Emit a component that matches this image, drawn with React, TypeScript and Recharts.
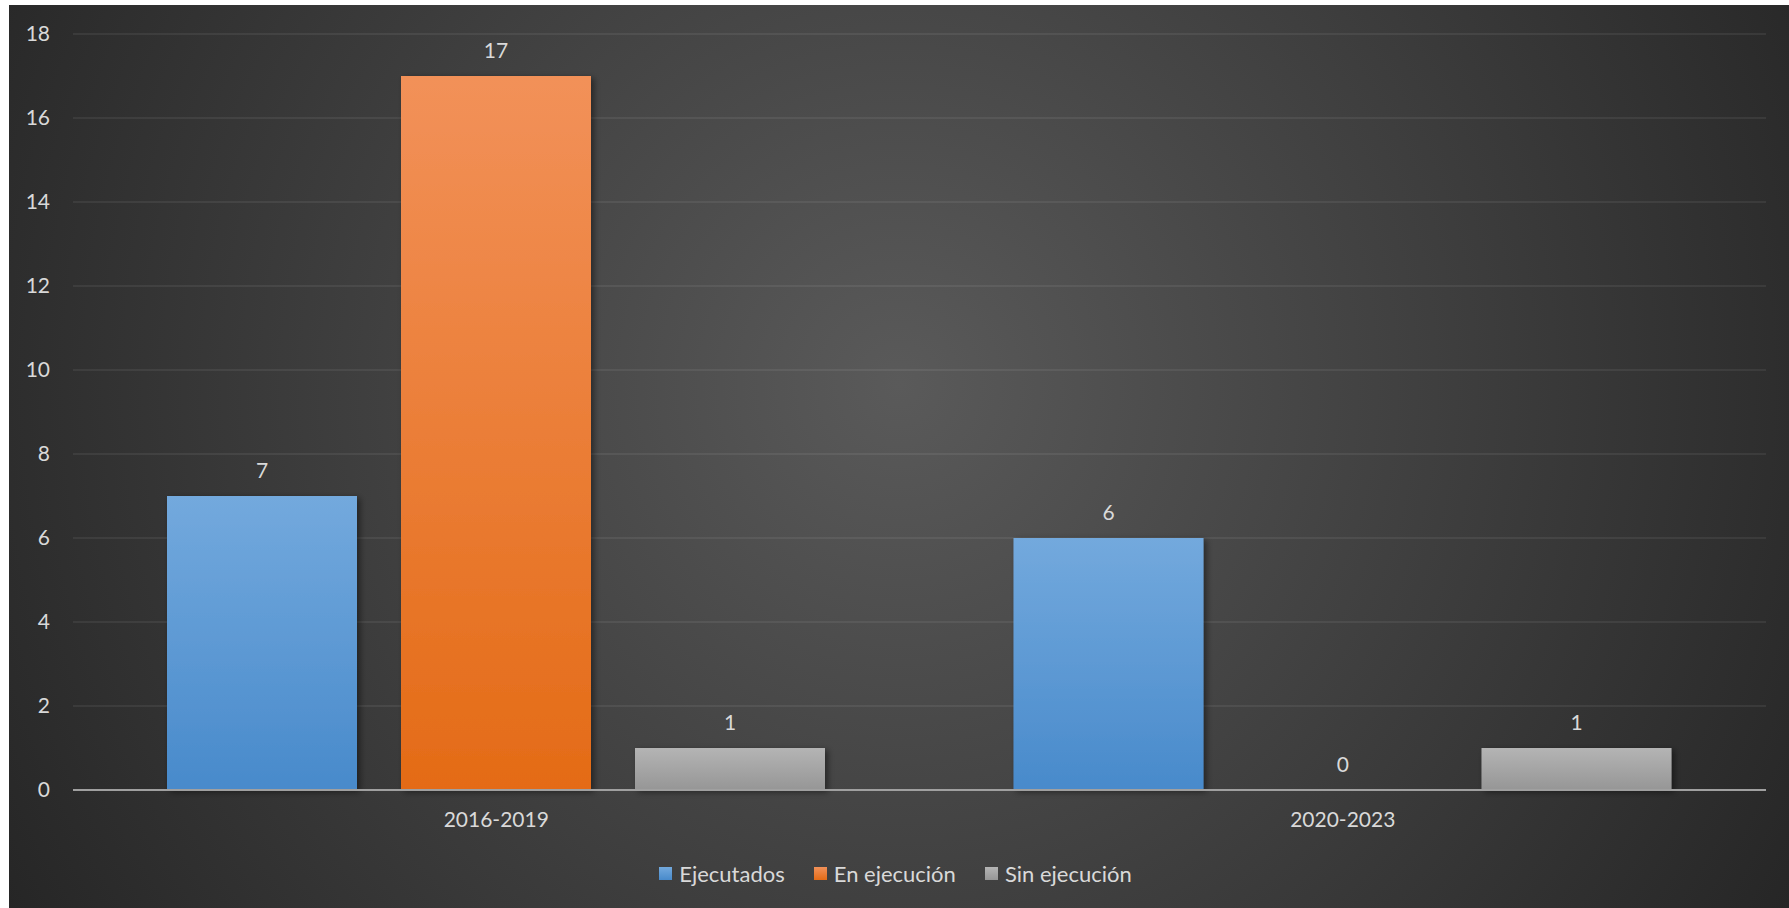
import { BarChart, Bar, XAxis, YAxis, CartesianGrid, Legend, LabelList, ReferenceDot } from 'recharts';

const categories = ['2016-2019', '2020-2023'];
const ejecutados = [7, 6];
const enEjecucion = [17, 0];
const sinEjecucion = [1, 1];
const yTicks = [0, 2, 4, 6, 8, 10, 12, 14, 16, 18];

const series = [
  { key: 'ejecutados', name: 'Ejecutados', color: '#5b9bd5', top: '#73a9dd', bottom: '#488acb' },
  { key: 'enEjecucion', name: 'En ejecución', color: '#ed7d31', top: '#f29159', bottom: '#e46b16' },
  { key: 'sinEjecucion', name: 'Sin ejecución', color: '#a5a5a5', top: '#b4b4b4', bottom: '#969696' },
];

const data = categories.map((c, i) => ({
  name: c,
  ejecutados: ejecutados[i],
  enEjecucion: enEjecucion[i],
  sinEjecucion: sinEjecucion[i],
}));

const FONT = 'Lato, "Open Sans", sans-serif';
const TEXT = '#d9d9d9';
const FS = 21;

function LegendContent() {
  return (
    <div style={{ display: 'flex', justifyContent: 'center', alignItems: 'center', height: 30, paddingLeft: 16, fontFamily: FONT, fontSize: 22, color: TEXT }}>
      {series.map((s, i) => (
        <div key={s.key} style={{ display: 'flex', alignItems: 'center', marginLeft: i === 0 ? 0 : 29 }}>
          <span style={{ width: 13, height: 13, background: `linear-gradient(${s.top}, ${s.bottom})`, marginRight: 7, display: 'inline-block' }} />
          <span>{s.name}</span>
        </div>
      ))}
    </div>
  );
}

export default function App() {
  // zero-height bars drop their LabelList entry, so the middle series' zeros get a label dot
  const zeroLabels = data.filter((d) => d.enEjecucion === 0);

  return (
    <div
      style={{
        position: 'absolute',
        left: 9,
        top: 5,
        width: 1780,
        height: 903,
        background: 'radial-gradient(circle farthest-corner at 50% 42%, #5a5a5a 0%, #262626 100%)',
      }}
    >
      <BarChart
        width={1780}
        height={903}
        data={data}
        margin={{ top: 29, right: 23, left: 0, bottom: 0 }}
        barCategoryGap={94}
        barGap={44}
      >
        <defs>
          {series.map((s) => (
            <linearGradient key={s.key} id={`grad-${s.key}`} x1="0" y1="0" x2="0" y2="1">
              <stop offset="0%" stopColor={s.top} />
              <stop offset="100%" stopColor={s.bottom} />
            </linearGradient>
          ))}
          <filter id="barShadow" x="-10%" y="-10%" width="130%" height="130%">
            <feDropShadow dx="3" dy="2" stdDeviation="3" floodColor="#000" floodOpacity="0.45" />
          </filter>
        </defs>
        <CartesianGrid vertical={false} stroke="#ffffff" strokeOpacity={0.09} strokeWidth={1.5} />
        <XAxis
          dataKey="name"
          height={68}
          axisLine={{ stroke: '#a0a0a0', strokeWidth: 2 }}
          tickLine={false}
          tickSize={0}
          tickMargin={22}
          tick={{ fill: TEXT, fontSize: FS, fontFamily: FONT }}
        />
        <YAxis
          width={64}
          domain={[0, 18]}
          ticks={yTicks}
          axisLine={false}
          tickLine={false}
          tickSize={0}
          tickMargin={23}
          tick={{ fill: TEXT, fontSize: FS, fontFamily: FONT }}
        />
        <Legend verticalAlign="bottom" height={50} content={<LegendContent />} />
        {series.map((s) => (
          <Bar
            key={s.key}
            dataKey={s.key}
            name={s.name}
            fill={`url(#grad-${s.key})`}
            filter="url(#barShadow)"
            isAnimationActive={false}
          >
            <LabelList dataKey={s.key} position="top" offset={18} fill={TEXT} fontSize={FS} fontFamily={FONT} />
          </Bar>
        ))}
        {zeroLabels.map((d) => (
          <ReferenceDot
            key={d.name}
            x={d.name}
            y={d.enEjecucion}
            r={1}
            fill="none"
            stroke="none"
            ifOverflow="visible"
            label={{ value: d.enEjecucion, position: 'top', offset: 17, fill: TEXT, fontSize: FS, fontFamily: FONT }}
          />
        ))}
      </BarChart>
    </div>
  );
}
